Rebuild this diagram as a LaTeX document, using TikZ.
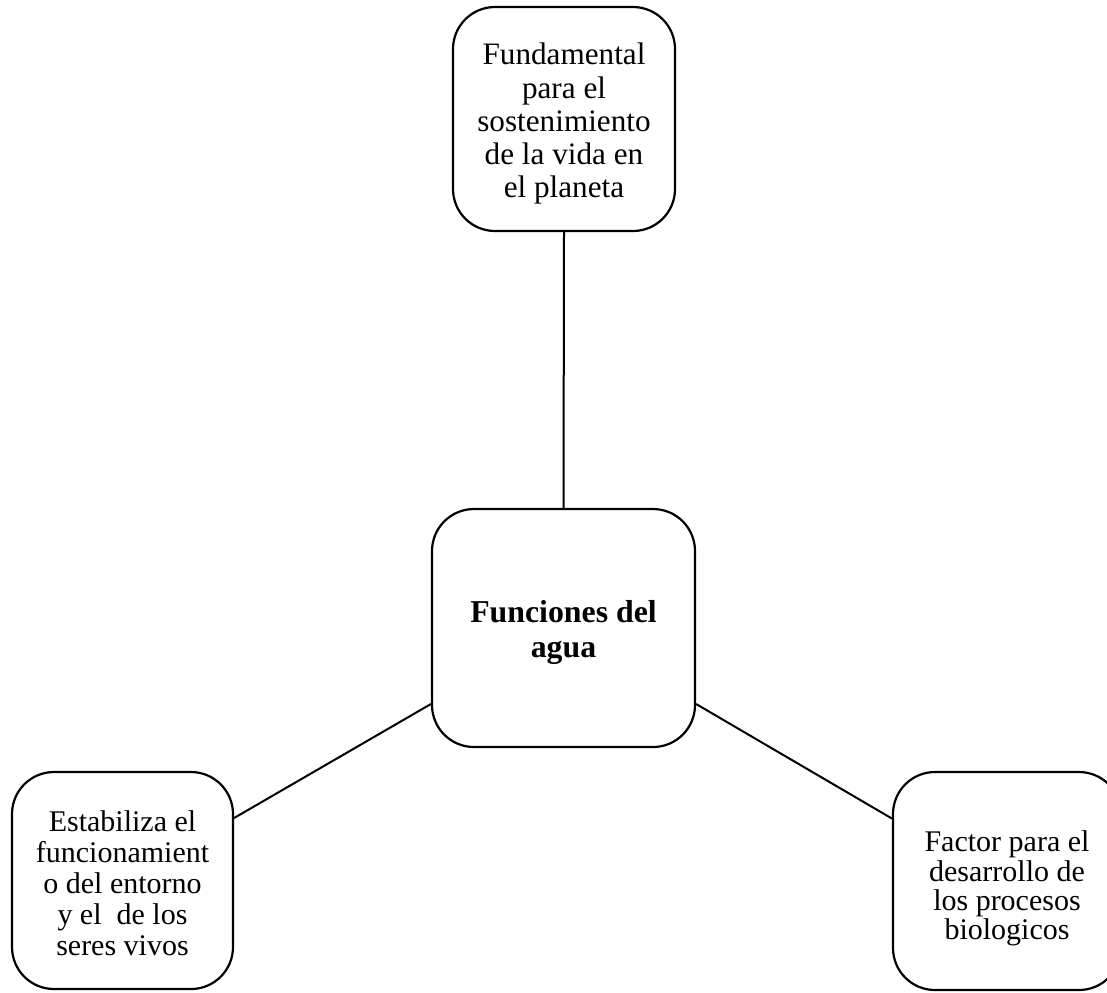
\documentclass[tikz,border=0pt]{standalone}
\usepackage{fontspec}
\setmainfont{Liberation Serif}
\tikzset{
  rbox/.style={draw=black, line width=1.1pt, rounded corners=21pt, align=center, inner sep=0pt, fill=white},
  conn/.style={draw=black, line width=1pt},
  big/.style={font=\fontsize{15.6}{16.6}\selectfont},
  small/.style={font=\fontsize{15}{15.4}\selectfont}
}
\begin{document}
\begin{tikzpicture}[x=0.5pt, y=-0.5pt]
\useasboundingbox (0,0) rectangle (1107,992);
\node[rbox, big, minimum width=111pt, minimum height=112pt] (top) at (564,119)
  {\rule{0pt}{15.7pt}Fundamental\\para el\\sostenimiento\\de la vida en\\el planeta};
\node[rbox, minimum width=131.5pt, minimum height=119pt,
  font=\fontsize{15.9}{17.5}\selectfont\bfseries] (ctr) at (563.5,628)
  {\rule{0pt}{15pt}Funciones del\\agua};
\node[rbox, small, minimum width=110.5pt, minimum height=108.5pt] (lft) at (122.5,880.5)
  {\rule{0pt}{13.2pt}Estabiliza el\\funcionamient\\o del entorno\\y el\ \ de los\\seres vivos};
\node[rbox, minimum width=114pt, minimum height=109pt,
  font=\fontsize{15}{14.6}\selectfont] (rgt) at (1007,881)
  {\rule{0pt}{18pt}Factor para el\\desarrollo de\\los procesos\\biologicos};
\draw[conn] (top.south) -- (ctr.north);
\draw[conn] ([yshift=-38pt]ctr.west) -- ([yshift=31.25pt]lft.east);
\draw[conn] ([yshift=-38pt]ctr.east) -- ([yshift=31.25pt]rgt.west);
\end{tikzpicture}
\end{document}
